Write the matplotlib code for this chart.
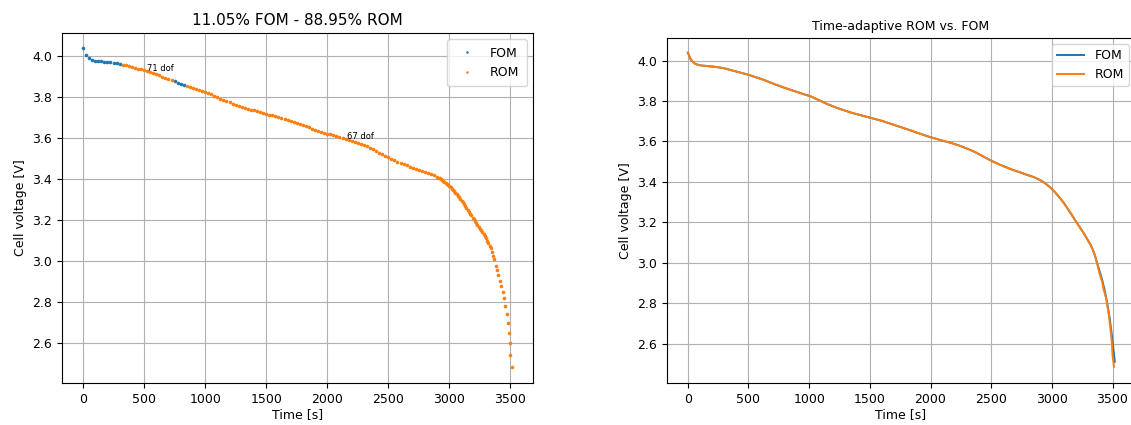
"""Cell voltage of the time-adaptive ROM compared with the FOM."""

import matplotlib.pyplot as plt
import numpy as np

# Voltage read every 25 s from 0 s to 2900 s
t_step = 25
v_body = [
    4.040, 4.005, 3.988, 3.981, 3.977, 3.975, 3.974, 3.972, 3.971, 3.969,
    3.967, 3.965, 3.962, 3.958, 3.954, 3.950, 3.946, 3.942, 3.938, 3.934,
    3.930, 3.925, 3.920, 3.915, 3.910, 3.905, 3.899, 3.893, 3.887, 3.881,
    3.876, 3.870, 3.865, 3.860, 3.855, 3.850, 3.845, 3.840, 3.835, 3.830,
    3.826, 3.820, 3.813, 3.806, 3.799, 3.792, 3.785, 3.779, 3.773, 3.767,
    3.762, 3.757, 3.752, 3.747, 3.742, 3.738, 3.734, 3.730, 3.726, 3.722,
    3.718, 3.714, 3.710, 3.706, 3.702, 3.697, 3.692, 3.687, 3.682, 3.677,
    3.672, 3.667, 3.662, 3.657, 3.652, 3.646, 3.641, 3.636, 3.631, 3.626,
    3.621, 3.617, 3.613, 3.608, 3.604, 3.600, 3.596, 3.592, 3.587, 3.582,
    3.577, 3.571, 3.565, 3.559, 3.552, 3.545, 3.537, 3.529, 3.521, 3.513,
    3.505, 3.498, 3.491, 3.484, 3.478, 3.472, 3.466, 3.460, 3.455, 3.450,
    3.445, 3.439, 3.434, 3.429, 3.424, 3.417, 3.410,
]
# Knee of the discharge curve, read every 10 s from 2910 s to 3360 s
knee_t0, knee_step = 2910, 10
v_knee = [
    3.407, 3.403, 3.399, 3.395, 3.391, 3.386, 3.381, 3.376, 3.371, 3.365,
    3.359, 3.353, 3.346, 3.339, 3.332, 3.325, 3.318, 3.310, 3.303, 3.295,
    3.286, 3.277, 3.268, 3.259, 3.250, 3.241, 3.231, 3.222, 3.212, 3.203,
    3.194, 3.185, 3.176, 3.167, 3.158, 3.149, 3.139, 3.130, 3.120, 3.110,
    3.099, 3.088, 3.075, 3.061, 3.045, 3.026,
]
# Sparse ROM points at the end of discharge
rom_tail_t = [3367, 3381, 3390, 3400, 3415, 3423, 3437, 3450, 3459, 3470,
              3478, 3487, 3495, 3500, 3512]
rom_tail_v = [3.008, 2.978, 2.954, 2.932, 2.904, 2.877, 2.847, 2.818, 2.781,
              2.740, 2.699, 2.650, 2.600, 2.542, 2.485]
# FOM reference tail (right panel)
fom_tail_t = [3367, 3390, 3415, 3437, 3459, 3478, 3495, 3510, 3519]
fom_tail_v = [3.012, 2.965, 2.915, 2.860, 2.790, 2.720, 2.640, 2.560, 2.510]

# Time windows solved with the FOM in the adaptive run
fom_windows = [(0, 300), (745, 835)]
dof_labels = [(528, 3.939, "71 dof"), (2164, 3.608, "67 dof")]

BLUE = "#1f77b4"
ORANGE = "#ff7f0e"


def common_curve():
    t = np.concatenate([
        np.arange(len(v_body)) * t_step,
        knee_t0 + np.arange(len(v_knee)) * knee_step,
    ])
    v = np.concatenate([v_body, v_knee])
    return t, v


def plot_adaptive(ax: plt.Axes) -> None:
    t, v = common_curve()
    fom = np.zeros(len(t), dtype=bool)
    for a, b in fom_windows:
        fom |= (t >= a) & (t <= b)
    t_rom = np.concatenate([t[~fom], rom_tail_t])
    v_rom = np.concatenate([v[~fom], rom_tail_v])
    ax.plot(t[fom], v[fom], "o", c=BLUE, ms=2.6, mew=0, label="FOM")
    ax.plot(t_rom, v_rom, "o", c=ORANGE, ms=2.6, mew=0, label="ROM")
    for x, y, s in dof_labels:
        ax.text(x, y, s, fontsize=6, va="center")
    ax.set_title("11.05% FOM - 88.95% ROM", fontsize=11)
    ax.legend(loc="upper right", fontsize=9, markerscale=0.7, borderpad=0.6)


def plot_compare(ax: plt.Axes) -> None:
    t, v = common_curve()
    ax.plot(np.concatenate([t, fom_tail_t]), np.concatenate([v, fom_tail_v]),
            c=BLUE, lw=1.4, label="FOM")
    ax.plot(np.concatenate([t, rom_tail_t]), np.concatenate([v, rom_tail_v]),
            c=ORANGE, lw=1.4, label="ROM")
    ax.set_title("Time-adaptive ROM vs. FOM", fontsize=9)
    ax.legend(loc="upper right", fontsize=9, handlelength=2.2)


def main():
    fig = plt.figure(figsize=(11.31, 4.25), dpi=100)
    ax1 = fig.add_axes([0.0548, 0.0988, 0.4165, 0.8236])
    ax2 = fig.add_axes([0.5897, 0.0988, 0.4138, 0.8118])
    plot_adaptive(ax1)
    plot_compare(ax2)
    for ax_ in (ax1, ax2):
        ax_.set_xlabel("Time [s]", fontsize=9, labelpad=2)
        ax_.set_ylabel("Cell voltage [V]", fontsize=9)
        ax_.tick_params(labelsize=9)
        ax_.set_yticks([2.6, 2.8, 3.0, 3.2, 3.4, 3.6, 3.8, 4.0])
        ax_.set_xticks(np.arange(0, 3501, 500))
        ax_.set_xlim(-172, 3685)
        ax_.set_ylim(2.405, 4.112)
        ax_.grid(True)
    fig.savefig("out.png", dpi=100)
    plt.close("all")


if __name__ == "__main__":
    main()
